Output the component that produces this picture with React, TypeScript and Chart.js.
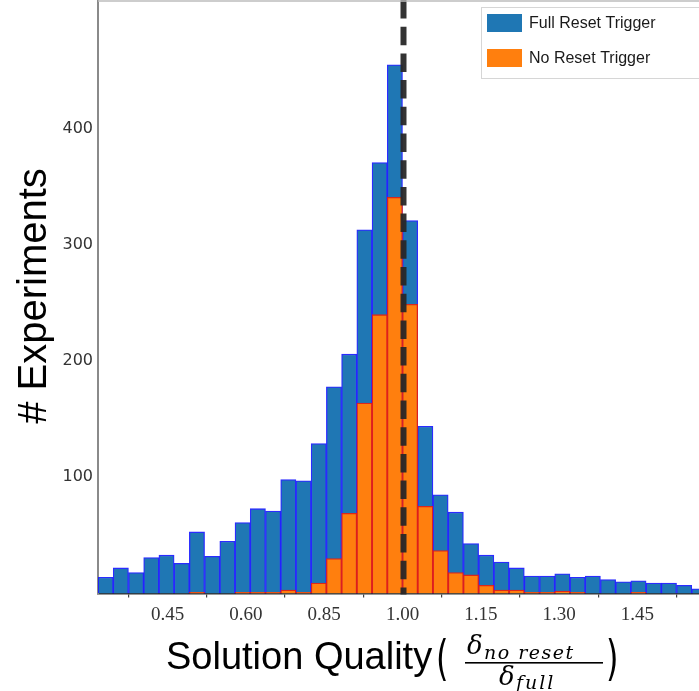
import React, { useEffect, useRef } from 'react';
import { Chart, registerables } from 'chart.js';

Chart.register(...registerables);

// Histogram bins (lower edge of each bin)
const binLabels = [
  '0.500', '0.525', '0.550', '0.575', '0.600', '0.625', '0.650', '0.675', '0.700', '0.725',
  '0.750', '0.775', '0.800', '0.825', '0.850', '0.875', '0.900', '0.925', '0.950', '0.975',
  '1.000', '1.025', '1.050', '1.075', '1.100', '1.125', '1.150', '1.175', '1.200', '1.225',
  '1.250', '1.275', '1.300', '1.325', '1.350', '1.375', '1.400', '1.425', '1.450', '1.475',
];

const fullReset = [
  14, 22, 18, 31, 33, 26, 53, 32, 45, 61,
  73, 71, 98, 97, 129, 178, 206, 313, 371, 455,
  321, 144, 85, 70, 43, 33, 27, 22, 15, 15,
  17, 14, 15, 12, 10, 11, 9, 9, 7, 4,
];

const noReset = [
  0, 0, 0, 0, 0, 0, 1, 0, 0, 1,
  1, 1, 3, 1, 9, 30, 69, 164, 240, 341,
  249, 75, 37, 18, 16, 7, 3, 3, 1, 1,
  2, 1, 0, 0, 0, 1, 0, 0, 0, 0,
];

const seriesNames = ['Full Reset Trigger', 'No Reset Trigger'];
const xTickValues = [0.55, 0.7, 0.85, 1.0, 1.15, 1.3, 1.45];
const xTickLabels = ['0.45', '0.60', '0.85', '1.00', '1.15', '1.30', '1.45'];
const yTickValues = [100, 200, 300, 400];
const referenceValue = 1.0;
const xRange = [0.5, 1.5];
const yRange = [0, 510];

const BLUE = '#1f77b4';
const ORANGE = '#ff7f0e';

const overlayPlugin = {
  id: 'overlay',
  afterDatasetsDraw(chart: any) {
    const { ctx, chartArea, scales } = chart;
    const xs = scales.xt;
    const xp = xs.getPixelForValue(referenceValue);
    ctx.save();
    ctx.strokeStyle = 'rgba(40,40,40,0.95)';
    ctx.lineWidth = 6;
    ctx.setLineDash([18.5, 8.2]);
    ctx.beginPath();
    ctx.moveTo(xp + 1, 0);
    ctx.lineTo(xp + 1, chartArea.bottom + 1);
    ctx.stroke();
    ctx.restore();
  },
  afterDraw(chart: any) {
    const { ctx, chartArea } = chart;
    ctx.save();
    // top spine
    ctx.strokeStyle = '#bdbdbd';
    ctx.lineWidth = 1.5;
    ctx.beginPath();
    ctx.moveTo(chartArea.left, chartArea.top);
    ctx.lineTo(chartArea.right, chartArea.top);
    ctx.stroke();

    // legend
    const lx = 481;
    const ly = 7;
    ctx.fillStyle = 'rgba(255,255,255,0.9)';
    ctx.fillRect(lx, ly, 260, 71);
    ctx.strokeStyle = '#d6d6d6';
    ctx.lineWidth = 1;
    ctx.strokeRect(lx + 0.5, ly + 0.5, 260, 71);
    const colors = [BLUE, ORANGE];
    const rows = [23, 58];
    ctx.font = '16px "Liberation Sans", Arial, sans-serif';
    ctx.textBaseline = 'middle';
    ctx.textAlign = 'left';
    seriesNames.forEach((name, i) => {
      ctx.fillStyle = colors[i];
      ctx.fillRect(487, rows[i] - 9, 35, 18);
      ctx.fillStyle = '#1a1a1a';
      ctx.fillText(name, 529, rows[i] + 1);
    });

    // y title
    ctx.save();
    ctx.translate(46, 296);
    ctx.rotate(-Math.PI / 2);
    ctx.font = '40px "Liberation Sans", Arial, sans-serif';
    ctx.fillStyle = '#000';
    ctx.textAlign = 'center';
    ctx.textBaseline = 'alphabetic';
    ctx.fillText('# Experiments', 0, 0);
    ctx.restore();

    // x title
    ctx.fillStyle = '#000';
    ctx.textBaseline = 'alphabetic';
    ctx.textAlign = 'left';
    ctx.font = '38px "Liberation Sans", Arial, sans-serif';
    ctx.fillText('Solution Quality', 166, 669);
    ctx.font = '40px "DejaVu Sans", sans-serif';
    ctx.save();
    ctx.translate(436, 675);
    ctx.scale(0.8, 1.2);
    ctx.fillText('(', 0, 0);
    ctx.restore();
    ctx.save();
    ctx.translate(606, 675);
    ctx.scale(0.8, 1.2);
    ctx.fillText(')', 0, 0);
    ctx.restore();
    // fraction
    ctx.font = 'italic 26px "DejaVu Serif", serif';
    ctx.fillText('δ', 467, 654);
    ctx.font = 'italic 19px "DejaVu Serif", serif';
    (ctx as any).letterSpacing = '1.5px';
    ctx.fillText('no reset', 484, 659);
    (ctx as any).letterSpacing = '0px';
    ctx.fillRect(465, 662, 138, 1.6);
    ctx.font = 'italic 26px "DejaVu Serif", serif';
    ctx.fillText('δ', 499, 685);
    ctx.font = 'italic 19px "DejaVu Serif", serif';
    (ctx as any).letterSpacing = '2px';
    ctx.fillText('full', 516, 689);
    (ctx as any).letterSpacing = '0px';
    ctx.restore();
  },
};

export default function App() {
  const ref = useRef<HTMLCanvasElement | null>(null);

  useEffect(() => {
    if (!ref.current) return;
    const chart = new Chart(ref.current, {
      type: 'bar',
      data: {
        labels: binLabels,
        datasets: [
          {
            label: seriesNames[0],
            data: fullReset,
            backgroundColor: BLUE,
            borderColor: 'rgba(20,20,255,0.9)',
            borderWidth: 1.3,
            order: 2,
            grouped: false,
            barPercentage: 1,
            categoryPercentage: 1,
          } as any,
          {
            label: seriesNames[1],
            data: noReset,
            backgroundColor: ORANGE,
            borderColor: 'rgba(240,30,10,0.9)',
            borderWidth: 1.3,
            order: 1,
            grouped: false,
            barPercentage: 1,
            categoryPercentage: 1,
          } as any,
        ],
      },
      options: {
        animation: false,
        responsive: false,
        maintainAspectRatio: false,
        layout: { padding: { top: 1, right: 13, left: 0, bottom: 0 } },
        plugins: {
          legend: { display: false },
          tooltip: { enabled: false },
        },
        scales: {
          x: {
            type: 'category',
            display: false,
            offset: true,
          },
          xt: {
            type: 'linear',
            position: 'bottom',
            min: xRange[0],
            max: xRange[1],
            afterBuildTicks: (scale: any) => {
              scale.ticks = xTickValues.map((v) => ({ value: v }));
            },
            afterFit: (scale: any) => {
              scale.height = 97.5;
              scale.paddingLeft = 0;
              scale.paddingRight = 0;
            },
            grid: {
              display: true,
              drawOnChartArea: false,
              drawTicks: true,
              tickLength: 4,
              color: '#444',
              lineWidth: 1.2,
            },
            border: { display: true, color: '#333', width: 1.5 },
            ticks: {
              autoSkip: false,
              maxRotation: 0,
              padding: 6,
              color: '#333',
              font: { family: '"Liberation Serif", "Times New Roman", serif', size: 19 },
              callback: (_v: any, i: number) => xTickLabels[i],
            },
          } as any,
          y: {
            min: yRange[0],
            max: yRange[1],
            afterBuildTicks: (scale: any) => {
              scale.ticks = yTickValues.map((v) => ({ value: v }));
            },
            afterFit: (scale: any) => {
              scale.width = 98;
              scale.paddingTop = 0;
              scale.paddingBottom = 0;
            },
            grid: { display: false, drawTicks: false },
            border: { display: true, color: '#8a8a8a', width: 2 },
            ticks: {
              padding: 5,
              color: '#333',
              font: { family: '"DejaVu Sans", sans-serif', size: 16 },
            },
          },
        },
      },
      plugins: [overlayPlugin],
    });
    return () => chart.destroy();
  }, []);

  return (
    <div
      style={{
        position: 'fixed',
        left: 0,
        top: 0,
        width: 699,
        height: 691,
        overflow: 'hidden',
        background: '#fff',
      }}
    >
      <canvas ref={ref} width={720} height={691} style={{ display: 'block' }} />
    </div>
  );
}
